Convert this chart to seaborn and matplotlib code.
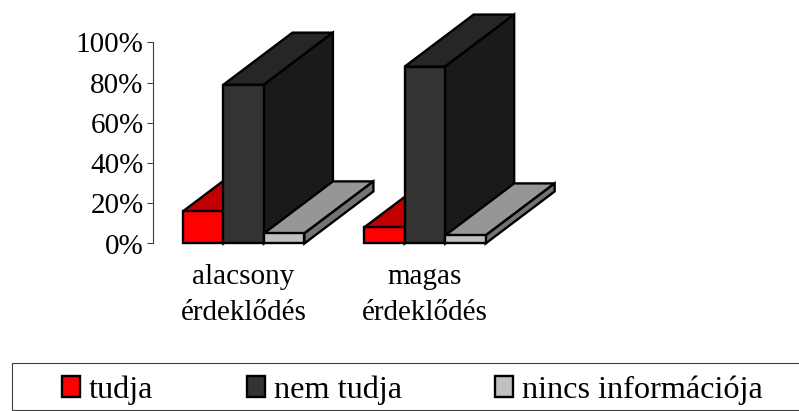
import matplotlib
matplotlib.use("Agg")
import matplotlib.pyplot as plt
from matplotlib.patches import Polygon, Patch, Rectangle
import pandas as pd
import seaborn as sns

groups = ["alacsony\nérdeklődés", "magas\nérdeklődés"]
answers = ["tudja", "nem tudja", "nincs információja"]
tudja = [16, 8]
nem_tudja = [79, 88]
nincs = [5, 4]
tick_labels = ["0%", "20%", "40%", "60%", "80%", "100%"]

front_colors = ["#FF0000", "#333333", "#C0C0C0"]
top_colors = ["#C00000", "#262626", "#969696"]
side_colors = ["#800000", "#1A1A1A", "#737373"]

# Extrusion of each bar, in data units
DEPTH_X = 0.381
DEPTH_Y = 25.9
EDGE = 1.7

sns.set_theme(style="white")
plt.rcParams["font.family"] = ["Liberation Serif", "DejaVu Serif"]

W, H = 799, 411
fig = plt.figure(figsize=(W / 100, H / 100), dpi=100)
ax = fig.add_axes([153 / W, 1 - 243.5 / H, 362.5 / W, 201 / H])

df = pd.DataFrame({
    "group": groups * 3,
    "answer": [a for a in answers for _ in groups],
    "value": tudja + nem_tudja + nincs,
})
sns.barplot(data=df, x="group", y="value", hue="answer", order=groups,
            hue_order=answers, palette=front_colors, width=0.67, gap=0,
            saturation=1, legend=False, ax=ax, edgecolor="black",
            linewidth=EDGE, clip_on=False)

# Extrude every bar: top and side faces sit behind its own front face
for s, container in enumerate(ax.containers):
    z = 2 + s * 3
    for bar in container:
        x0, x1 = bar.get_x(), bar.get_x() + bar.get_width()
        h = bar.get_height()
        top = [(x0, h), (x1, h), (x1 + DEPTH_X, h + DEPTH_Y), (x0 + DEPTH_X, h + DEPTH_Y)]
        side = [(x1, 0), (x1 + DEPTH_X, DEPTH_Y), (x1 + DEPTH_X, h + DEPTH_Y), (x1, h)]
        for pts, col, dz in ((top, top_colors[s], 0), (side, side_colors[s], 1)):
            ax.add_patch(Polygon(pts, closed=True, facecolor=col, edgecolor="black",
                                 linewidth=EDGE, joinstyle="miter", clip_on=False, zorder=z + dz))
        bar.set_zorder(z + 2)
        bar.set_clip_on(False)
        bar.set_joinstyle("miter")

ax.set_xlim(-0.5, 1.5)
ax.set_ylim(0, 100)
ax.set_xlabel("")
ax.set_ylabel("")
ax.set_yticks(range(0, 101, 20), tick_labels)
ax.tick_params(axis="y", left=True, length=4.3, width=0.8, color="#404040",
               pad=2.5, labelsize=21, labelcolor="black")
ax.tick_params(axis="x", bottom=False, pad=9, labelsize=21, labelcolor="black")
for label in ax.get_xticklabels():
    label.set_linespacing(1.5)
for name in ("top", "right", "bottom"):
    ax.spines[name].set_visible(False)
ax.spines["left"].set_color("#404040")
ax.spines["left"].set_linewidth(0.8)
ax.patch.set_alpha(0)

# Legend band runs off the right edge of the figure
fig.add_artist(Rectangle((12 / W, 1.5 / H), 800 / W, 46.5 / H, transform=fig.transFigure,
                         facecolor="white", edgecolor="#404040", linewidth=0.8))
handles = [Patch(facecolor=c, edgecolor="black", linewidth=EDGE) for c in front_colors]
leg = fig.legend(handles, answers, ncol=3, loc="center left",
                 bbox_to_anchor=(62 / W, 21 / H), bbox_transform=fig.transFigure,
                 borderaxespad=0, borderpad=0, fontsize=23.2, frameon=False,
                 labelcolor="black", handlelength=0.56, handleheight=0.62,
                 handletextpad=0.28, columnspacing=2.9)

fig.savefig("out.png", dpi=100)
